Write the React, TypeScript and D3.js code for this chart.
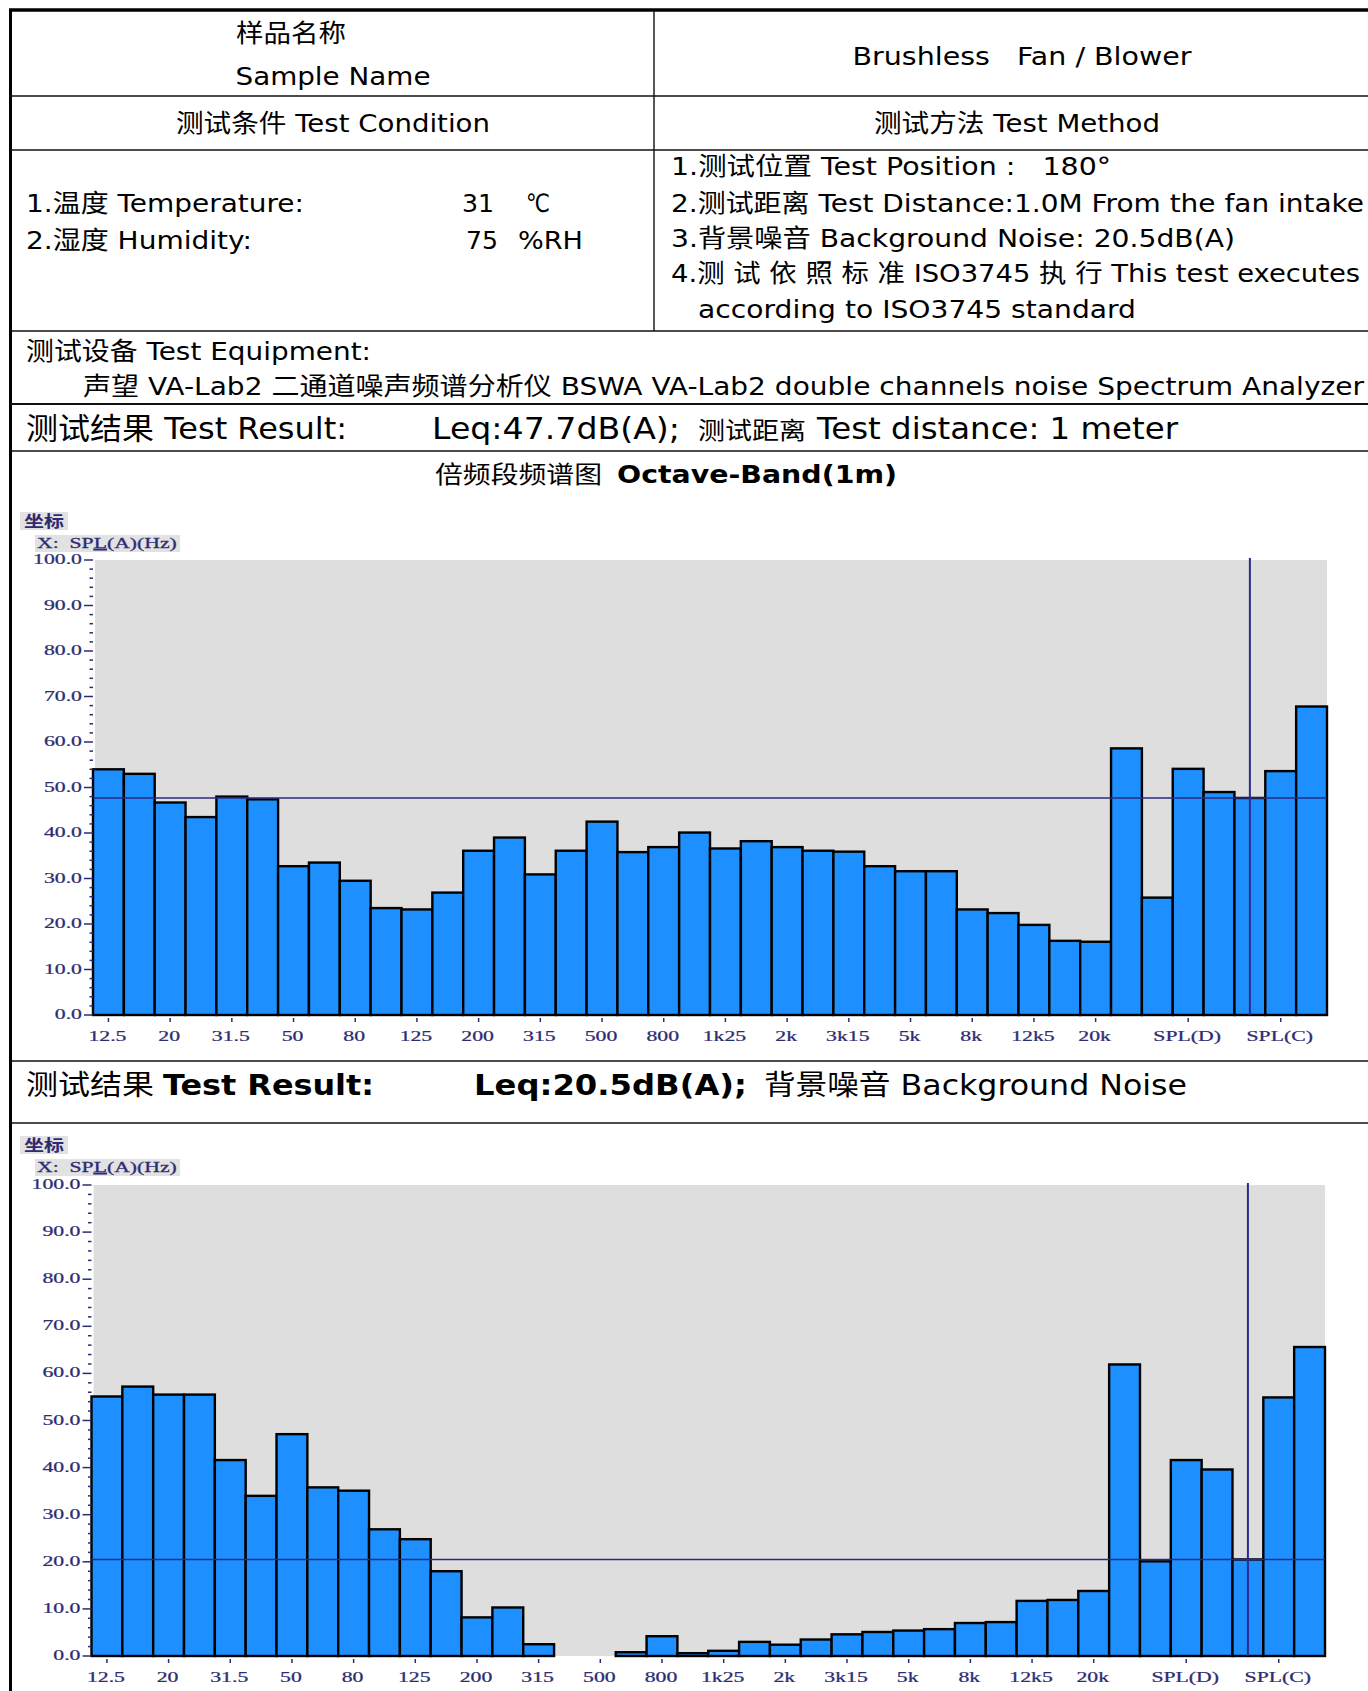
import React from 'react'
import * as d3 from 'd3'

// 1/3-octave bands followed by the summary levels; only some get a tick label
const bands = [
  '12.5', '16', '20', '25', '31.5', '40', '50', '63', '80', '100', '125', '160',
  '200', '250', '315', '400', '500', '630', '800', '1k', '1k25', '1k6', '2k', '2k5',
  '3k15', '4k', '5k', '6k3', '8k', '10k', '12k5', '16k', '20k',
]
const summaries = ['S1', 'S2', 'SPL(D)', 'S4', 'SPL(A)', 'SPL(C)', 'S7']
const categories = [...bands, ...summaries]
const tickLabels = [
  '12.5', '20', '31.5', '50', '80', '125', '200', '315', '500', '800', '1k25', '2k',
  '3k15', '5k', '8k', '12k5', '20k', 'SPL(D)', 'SPL(C)',
]
const cursorCategory = 'SPL(A)'

// dB(A) readings at 1 m
const testValues = [
  54.0, 53.0, 46.7, 43.5, 48.0, 47.4, 32.7, 33.5, 29.5, 23.5, 23.2, 26.9,
  36.1, 39.0, 30.9, 36.1, 42.5, 35.8, 36.9, 40.1, 36.6, 38.2, 36.9, 36.1,
  35.9, 32.7, 31.6, 31.6, 23.2, 22.4, 19.8, 16.3, 16.1,
  58.6, 25.8, 54.1, 49.0, 47.7, 53.6, 67.8,
]
const testLeq = 47.7

// background noise readings
const backgroundValues = [
  55.1, 57.2, 55.5, 55.5, 41.6, 34.0, 47.1, 35.8, 35.1, 26.9, 24.8, 18.0,
  8.2, 10.3, 2.5, 0, 0, 0.8, 4.2, 0.6, 1.1, 3.0, 2.4, 3.5,
  4.6, 5.1, 5.4, 5.7, 7.0, 7.2, 11.7, 11.9, 13.8,
  61.9, 20.1, 41.6, 39.6, 20.5, 54.9, 65.6,
]
const backgroundLeq = 20.5

const FONT = "'DejaVu Sans', 'Noto Sans CJK SC', sans-serif"
const AXIS_FONT = "'Liberation Serif', 'Noto Sans CJK SC', serif"
const NAVY = '#2c2c72'

function Label({ x, y, size = 25, anchor = 'start', bold = false, len, children }: any) {
  return (
    <text
      x={x}
      y={y + size * 0.36}
      fontSize={size}
      fontFamily={FONT}
      fontWeight={bold ? 'bold' : 'normal'}
      textAnchor={anchor}
      textLength={len}
      lengthAdjust={len ? 'spacingAndGlyphs' : undefined}
      style={{ whiteSpace: 'pre' }}
      fill="#000"
    >
      {children}
    </text>
  )
}

function SpectrumChart({ values, leq, x0, x1, yTop, yBottom, boxY }: any) {
  const x = d3.scaleBand().domain(categories).range([x0, x1]).padding(0)
  const y = d3.scaleLinear().domain([0, 100]).range([yBottom, yTop])
  const bw = x.bandwidth()
  const majors = y.ticks(10)
  const minors = d3.range(0, 100, 2).filter((v) => v % 10 !== 0)
  const cursorX = (x(cursorCategory) as number) + bw / 2
  const fmt = d3.format('.1f')

  return (
    <g>
      <rect x={20} y={boxY} width={48} height={18} fill="#e2e2e2" />
      <text
        transform={`translate(44,${boxY + 15}) scale(1.25,1)`}
        textAnchor="middle"
        fontSize={16}
        fontWeight={700}
        fontFamily="'Noto Sans CJK SC', sans-serif"
        fill={NAVY}
      >
        坐标
      </text>
      <rect x={35} y={boxY + 23} width={145} height={17} fill="#e2e2e2" />
      <text
        transform={`translate(37,${boxY + 36}) scale(1.4,1)`}
        fontSize={15.5}
        fontFamily={AXIS_FONT}
        fill={NAVY}
        stroke={NAVY}
        strokeWidth={0.3}
        style={{ whiteSpace: 'pre' }}
      >
        {'X:  SP'}
        <tspan textDecoration="underline">L</tspan>
        {'(A)(Hz)'}
      </text>

      <rect x={x0 + 2} y={yTop} width={x1 - x0 - 2} height={yBottom - yTop} fill="#dedede" />

      {values.map((v: number, i: number) =>
        v > 0 ? (
          <rect
            key={i}
            x={x(categories[i])}
            y={y(v)}
            width={bw}
            height={yBottom - y(v)}
            fill="#1e8fff"
            stroke="#000"
            strokeWidth={2.4}
          />
        ) : null,
      )}

      <line x1={x0} x2={x1} y1={y(leq)} y2={y(leq)} stroke="#2a2a80" strokeWidth={1.4} />
      <line x1={cursorX} x2={cursorX} y1={yTop - 2} y2={yBottom} stroke="#2a2a8c" strokeWidth={2} />

      {majors.map((t) => (
        <g key={t}>
          <line x1={x0 - 9} x2={x0} y1={y(t)} y2={y(t)} stroke={NAVY} strokeWidth={1.5} />
          <text
            transform={`translate(${x0 - 11},${y(t) + 4}) scale(1.5,1)`}
            textAnchor="end"
            fontSize={14.5}
            fontFamily={AXIS_FONT}
            fill={NAVY}
            stroke={NAVY}
            strokeWidth={0.25}
          >
            {fmt(t)}
          </text>
        </g>
      ))}
      {minors.map((t) => (
        <line key={t} x1={x0 - 3.5} x2={x0} y1={y(t)} y2={y(t)} stroke={NAVY} strokeWidth={1.5} />
      ))}

      {tickLabels.map((c) => {
        const cx = (x(c) as number) + bw / 2
        return (
          <g key={c}>
            <line x1={cx} x2={cx} y1={yBottom + 3} y2={yBottom + 7} stroke={NAVY} strokeWidth={1.5} />
            <text
              transform={`translate(${cx - 1},${yBottom + 26}) scale(1.5,1)`}
              textAnchor="middle"
              fontSize={14.5}
              fontFamily={AXIS_FONT}
              fill={NAVY}
              stroke={NAVY}
              strokeWidth={0.25}
            >
              {c}
            </text>
          </g>
        )
      })}
    </g>
  )
}

export default function App() {
  const W = 1368
  const H = 1691
  const rows = [96, 150, 331, 404, 451, 1061, 1123]

  return (
    <div style={{ position: 'absolute', left: 0, top: 0, width: W, height: H, background: '#fff' }}>
      <svg width={W} height={H} viewBox={`0 0 ${W} ${H}`} style={{ display: 'block' }}>
        <rect width={W} height={H} fill="#fff" />

        {/* table frame */}
        <line x1={9} x2={W} y1={10} y2={10} stroke="#000" strokeWidth={3.5} />
        <line x1={10.5} x2={10.5} y1={9} y2={H} stroke="#000" strokeWidth={3} />
        {rows.map((r) => (
          <line key={r} x1={10} x2={W} y1={r} y2={r} stroke="#111" strokeWidth={r === 404 ? 2.2 : 1.6} />
        ))}
        <line x1={654} x2={654} y1={10} y2={331} stroke="#111" strokeWidth={1.4} />

        {/* header cells */}
        <Label x={291} y={33} anchor="middle" len={110}>样品名称</Label>
        <Label x={333} y={76} anchor="middle" len={195}>Sample Name</Label>
        <Label x={1022} y={56} anchor="middle" len={339}>Brushless   Fan / Blower</Label>
        <Label x={333} y={123} anchor="middle" len={314}>测试条件 Test Condition</Label>
        <Label x={1017} y={123} anchor="middle" len={286}>测试方法 Test Method</Label>

        <Label x={26} y={203} len={278}>1.温度 Temperature:</Label>
        <Label x={462} y={203} len={32}>31</Label>
        <Label x={526} y={203} len={24}>℃</Label>
        <Label x={26} y={240} len={226}>2.湿度 Humidity:</Label>
        <Label x={466} y={240} len={32}>75</Label>
        <Label x={518} y={240} len={65}>%RH</Label>

        <Label x={671} y={166} len={440}>1.测试位置 Test Position :   180°</Label>
        <Label x={671} y={203} len={693}>2.测试距离 Test Distance:1.0M From the fan intake</Label>
        <Label x={671} y={238} len={564}>3.背景噪音 Background Noise: 20.5dB(A)</Label>
        <Label x={671} y={273} len={689}>4.测 试 依 照 标 准 ISO3745 执 行 This test executes</Label>
        <Label x={698} y={309} len={438}>according to ISO3745 standard</Label>

        <Label x={26} y={351} len={345}>测试设备 Test Equipment:</Label>
        <Label x={83} y={386} len={1281}>
          声望 VA-Lab2 二通道噪声频谱分析仪 BSWA VA-Lab2 double channels noise Spectrum Analyzer
        </Label>

        <Label x={26} y={428} size={30} len={321}>测试结果 Test Result:</Label>
        <Label x={432} y={428} size={30} len={248}>Leq:47.7dB(A);</Label>
        <Label x={698} y={430} size={24} len={108}>测试距离</Label>
        <Label x={817} y={428} size={30} len={361}>Test distance: 1 meter</Label>

        <Label x={435} y={474} size={24} len={167}>倍频段频谱图</Label>
        <Label x={617} y={474} size={25} bold len={280}>Octave-Band(1m)</Label>

        <SpectrumChart values={testValues} leq={testLeq} x0={93} x1={1327} yTop={560} yBottom={1015} boxY={512} />

        <Label x={26} y={1085} size={28} len={128}>测试结果</Label>
        <Label x={163} y={1085} size={28} bold len={211}>Test Result:</Label>
        <Label x={474} y={1085} size={28} bold len={273}>Leq:20.5dB(A);</Label>
        <Label x={764} y={1085} size={28} len={423}>背景噪音 Background Noise</Label>

        <SpectrumChart
          values={backgroundValues}
          leq={backgroundLeq}
          x0={91.5}
          x1={1325}
          yTop={1185}
          yBottom={1656}
          boxY={1136}
        />
      </svg>
    </div>
  )
}
